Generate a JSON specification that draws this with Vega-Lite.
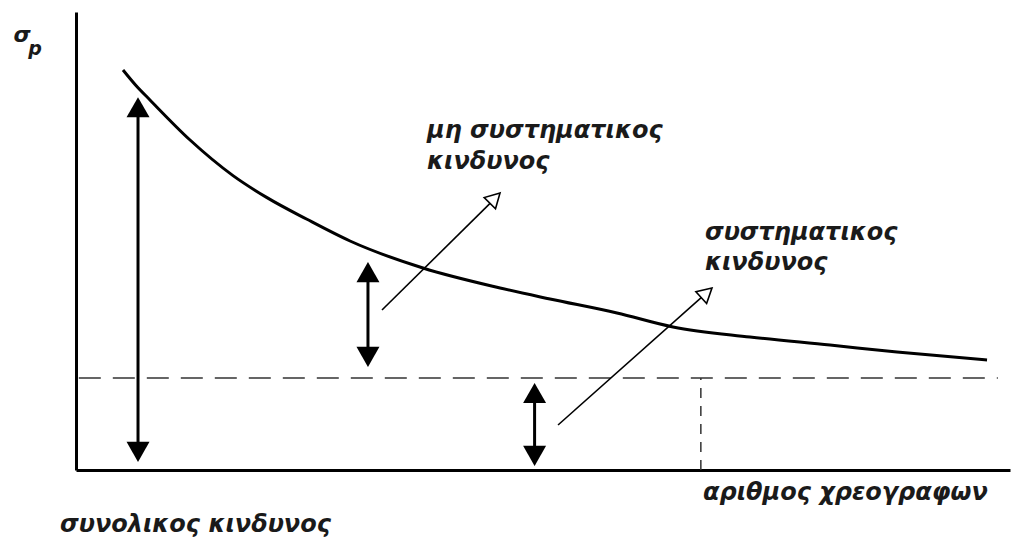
{
  "$schema": "https://vega.github.io/schema/vega-lite/v6.json",
  "width": 934,
  "height": 458,
  "autosize": {"type": "none"},
  "padding": {"left": 76, "top": 12, "right": 18, "bottom": 68},
  "background": "white",
  "config": {"view": {"stroke": null}},
  "datasets": {
    "curve": [
      {"n": 5.03, "sigma": 87.34},
      {"n": 6.42, "sigma": 83.95},
      {"n": 7.92, "sigma": 80.79},
      {"n": 12.21, "sigma": 72.05},
      {"n": 16.81, "sigma": 64.28},
      {"n": 20.45, "sigma": 59.47},
      {"n": 24.73, "sigma": 54.74},
      {"n": 29.34, "sigma": 50.0},
      {"n": 37.15, "sigma": 44.1},
      {"n": 45.4, "sigma": 39.74},
      {"n": 50.75, "sigma": 37.34},
      {"n": 57.92, "sigma": 34.28},
      {"n": 63.92, "sigma": 31.22},
      {"n": 72.16, "sigma": 29.04},
      {"n": 80.73, "sigma": 27.29},
      {"n": 87.9, "sigma": 25.76},
      {"n": 97.54, "sigma": 24.02}
    ],
    "hline": [{"x1": 0.3, "x2": 98.7, "y": 20.1}],
    "vline": [{"x": 66.9, "y1": 0, "y2": 20.1}],
    "shafts": [
      {"x": 6.64, "top": 78.1, "bottom": 5.0},
      {"x": 31.26, "top": 42.1, "bottom": 25.8},
      {"x": 49.1, "top": 15.7, "bottom": 4.2}
    ],
    "heads": [
      {"x": 6.64, "y": 81.4, "dir": "up"},
      {"x": 6.64, "y": 1.75, "dir": "down"},
      {"x": 31.26, "y": 45.4, "dir": "up"},
      {"x": 31.26, "y": 22.5, "dir": "down"},
      {"x": 49.1, "y": 19.0, "dir": "up"},
      {"x": 49.1, "y": 0.9, "dir": "down"}
    ],
    "pointers": [
      {"xs": 32.76, "ys": 34.93, "xe": 44.33, "ye": 58.2},
      {"xs": 51.61, "ys": 9.83, "xe": 66.97, "ye": 37.7}
    ],
    "pointerHeads": [
      {"x": 45.4, "y": 60.48, "ang": 45},
      {"x": 68.09, "y": 39.74, "ang": 48}
    ],
    "labels": [
      {"x": 37.58, "y": 74.0, "t": "μη συστηματικος"},
      {"x": 37.58, "y": 67.2, "t": "κινδυνος"},
      {"x": 67.34, "y": 51.75, "t": "συστηματικος"},
      {"x": 67.34, "y": 45.2, "t": "κινδυνος"},
      {"x": 67.13, "y": -5.02, "t": "αριθμος χρεογραφων"},
      {"x": -1.71, "y": -12.0, "t": "συνολικος κινδυνος"}
    ],
    "sigma": [{"x": -5.78, "y": 95.0, "t": "σ"}],
    "sub": [{"x": -4.39, "y": 91.9, "t": "p"}]
  },
  "layer": [
    {
      "data": {"name": "curve"},
      "mark": {"type": "line", "color": "black", "strokeWidth": 3, "interpolate": "monotone"},
      "encoding": {
        "x": {"field": "n", "type": "quantitative", "scale": {"domain": [0, 100], "nice": false, "zero": false},
          "axis": {"domain": true, "domainColor": "black", "domainWidth": 3, "ticks": false, "labels": false, "grid": false, "title": null}},
        "y": {"field": "sigma", "type": "quantitative", "scale": {"domain": [0, 100], "nice": false, "zero": false},
          "axis": {"domain": true, "domainColor": "black", "domainWidth": 3, "ticks": false, "labels": false, "grid": false, "title": null}}
      }
    },
    {
      "data": {"name": "hline"},
      "mark": {"type": "rule", "color": "#333", "strokeWidth": 1.5, "strokeDash": [22, 12]},
      "encoding": {
        "x": {"field": "x1", "type": "quantitative"},
        "x2": {"field": "x2"},
        "y": {"field": "y", "type": "quantitative"}
      }
    },
    {
      "data": {"name": "vline"},
      "mark": {"type": "rule", "color": "#333", "strokeWidth": 1.5, "strokeDash": [10, 8]},
      "encoding": {
        "x": {"field": "x", "type": "quantitative"},
        "y": {"field": "y1", "type": "quantitative"},
        "y2": {"field": "y2"}
      }
    },
    {
      "data": {"name": "shafts"},
      "mark": {"type": "rule", "color": "black", "strokeWidth": 3},
      "encoding": {
        "x": {"field": "x", "type": "quantitative"},
        "y": {"field": "top", "type": "quantitative"},
        "y2": {"field": "bottom"}
      }
    },
    {
      "data": {"name": "heads"},
      "mark": {"type": "point", "filled": true, "color": "black", "opacity": 1, "size": 529, "strokeWidth": 0},
      "encoding": {
        "x": {"field": "x", "type": "quantitative"},
        "y": {"field": "y", "type": "quantitative"},
        "shape": {"field": "dir", "type": "nominal", "legend": null,
          "scale": {"domain": ["up", "down"], "range": ["M0,0L-1,1.75L1,1.75Z", "M0,0L-1,-1.75L1,-1.75Z"]}}
      }
    },
    {
      "data": {"name": "pointers"},
      "mark": {"type": "rule", "color": "black", "strokeWidth": 1.6},
      "encoding": {
        "x": {"field": "xs", "type": "quantitative"},
        "y": {"field": "ys", "type": "quantitative"},
        "x2": {"field": "xe"},
        "y2": {"field": "ye"}
      }
    },
    {
      "data": {"name": "pointerHeads"},
      "mark": {"type": "point", "filled": false, "color": "black", "opacity": 1, "size": 256, "strokeWidth": 1.6, "shape": "M0,0L-1,1.8L1,1.8Z"},
      "encoding": {
        "x": {"field": "x", "type": "quantitative"},
        "y": {"field": "y", "type": "quantitative"},
        "angle": {"field": "ang", "type": "quantitative", "scale": null}
      }
    },
    {
      "data": {"name": "labels"},
      "mark": {"type": "text", "align": "left", "baseline": "middle", "font": "DejaVu Sans", "fontStyle": "italic", "fontWeight": "bold", "fontSize": 24, "color": "#1a1a1a"},
      "encoding": {
        "x": {"field": "x", "type": "quantitative"},
        "y": {"field": "y", "type": "quantitative"},
        "text": {"field": "t"}
      }
    },
    {
      "data": {"name": "sigma"},
      "mark": {"type": "text", "align": "center", "baseline": "middle", "font": "DejaVu Sans", "fontStyle": "italic", "fontWeight": "bold", "fontSize": 22, "color": "#1a1a1a"},
      "encoding": {
        "x": {"field": "x", "type": "quantitative"},
        "y": {"field": "y", "type": "quantitative"},
        "text": {"field": "t"}
      }
    },
    {
      "data": {"name": "sub"},
      "mark": {"type": "text", "align": "center", "baseline": "middle", "font": "DejaVu Sans", "fontStyle": "italic", "fontWeight": "bold", "fontSize": 19, "color": "#1a1a1a"},
      "encoding": {
        "x": {"field": "x", "type": "quantitative"},
        "y": {"field": "y", "type": "quantitative"},
        "text": {"field": "t"}
      }
    }
  ]
}
